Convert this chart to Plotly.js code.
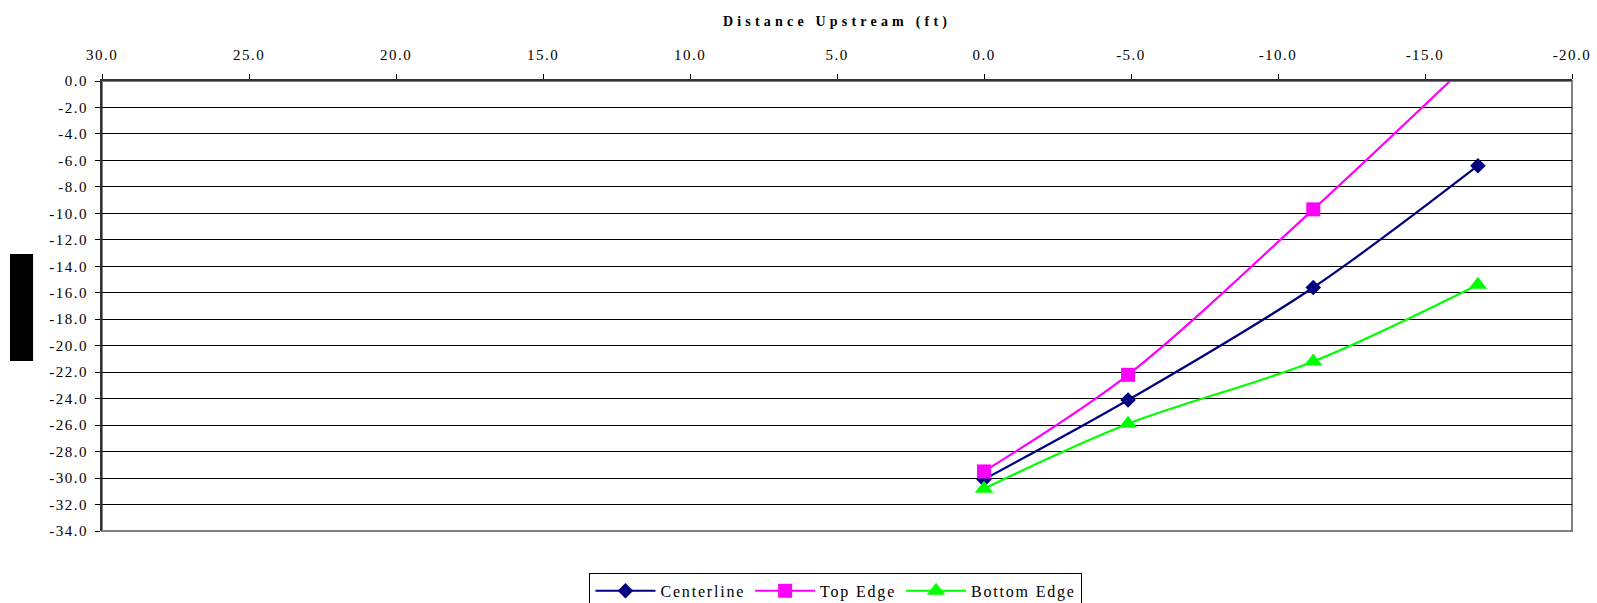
<!DOCTYPE html>
<html>
<head>
<meta charset="utf-8">
<script src="https://cdn.plot.ly/plotly-3.0.1.min.js"></script>
<style>
  html, body { margin: 0; padding: 0; background: #fff; }
  #chart { width: 1597px; height: 603px; }
  .xtick text, .ytick text { letter-spacing: 1.5px; }
  .g-xtitle text { letter-spacing: 4.2px; }
  .legendtext { letter-spacing: 1.8px; }
</style>
</head>
<body>
<div id="chart"></div>
<script>
// Distance upstream (ft) at each surveyed station
const distance = [0.0, -4.9, -11.2, -16.8];

// Elevations along the three profiles
const centerline = [-30.1, -24.1, -15.6, -6.4];
const topEdge = [-29.5, -22.2, -9.7, 2.0];
const bottomEdge = [-30.8, -25.9, -21.2, -15.4];

// Axis tick positions and labels
const xTickVals = [30, 25, 20, 15, 10, 5, 0, -5, -10, -15, -20];
const xTickText = ['30.0', '25.0', '20.0', '15.0', '10.0', '5.0', '0.0', '-5.0', '-10.0', '-15.0', '-20.0'];
const yTickVals = [0, -2, -4, -6, -8, -10, -12, -14, -16, -18, -20, -22, -24, -26, -28, -30, -32, -34];
const yTickText = yTickVals.map(v => (v === 0 ? '0.0' : '-' + Math.abs(v).toFixed(1)));

const serif = 'Liberation Serif, Times New Roman, serif';

function profile(name, values, color, symbol, size) {
  return {
    type: 'scatter',
    mode: 'lines+markers',
    name: name,
    x: distance,
    y: values,
    line: { color: color, width: 2.2, shape: 'spline', smoothing: 0.9 },
    marker: { color: color, symbol: symbol, size: size, line: { width: 0 } },
    cliponaxis: true
  };
}

const traces = [
  profile('Centerline', centerline, '#000080', 'diamond', 12),
  profile('Top Edge', topEdge, '#FF00FF', 'square', 14),
  profile('Bottom Edge', bottomEdge, '#00FF00', 'triangle-up', 16)
];

const layout = {
  width: 1597,
  height: 603,
  margin: { l: 102, r: 25, t: 81, b: 72, pad: 0, autoexpand: false },
  paper_bgcolor: '#ffffff',
  plot_bgcolor: '#ffffff',
  showlegend: true,
  font: { family: serif, size: 15, color: '#000000' },
  xaxis: {
    side: 'top',
    range: [30, -20],
    tickvals: xTickVals,
    ticktext: xTickText,
    ticks: 'outside',
    ticklen: 5,
    tickcolor: '#000000',
    showgrid: false,
    zeroline: false,
    showline: true,
    linecolor: '#333333',
    linewidth: 2,
    tickfont: { family: serif, size: 15, color: '#000000' },
    ticklabelstandoff: 8,
    title: {
      text: 'Distance Upstream (ft)',
      font: { family: serif, size: 14, color: '#000000', weight: 'bold' },
      standoff: 17
    },
    automargin: false
  },
  yaxis: {
    range: [-34, 0],
    tickvals: yTickVals,
    ticktext: yTickText,
    ticks: 'outside',
    ticklen: 5,
    tickcolor: '#000000',
    showgrid: true,
    gridcolor: '#000000',
    gridwidth: 1,
    zeroline: false,
    showline: true,
    linecolor: '#333333',
    linewidth: 2,
    tickfont: { family: serif, size: 15, color: '#000000' },
    ticklabelstandoff: 4,
    automargin: false
  },
  legend: {
    orientation: 'h',
    x: 0.4993,
    xanchor: 'center',
    y: -0.093,
    yanchor: 'top',
    bordercolor: '#000000',
    borderwidth: 1,
    bgcolor: '#ffffff',
    font: { family: serif, size: 16, color: '#000000' },
    itemwidth: 60,
    tracegroupgap: 0
  },
  shapes: [
    // plot-area frame (right and bottom edges in grey)
    {
      type: 'rect', xref: 'paper', yref: 'paper',
      x0: 0, x1: 1, y0: 0, y1: 1,
      line: { color: '#808080', width: 2 },
      layer: 'below'
    },
    // solid block beside the vertical axis
    {
      type: 'rect', xref: 'paper', yref: 'paper',
      x0: -0.0626, x1: -0.0469, y0: 0.3778, y1: 0.6156,
      fillcolor: '#000000',
      line: { width: 0 },
      layer: 'above'
    }
  ]
};

Plotly.newPlot('chart', traces, layout, { displayModeBar: false, staticPlot: true });
</script>
</body>
</html>
